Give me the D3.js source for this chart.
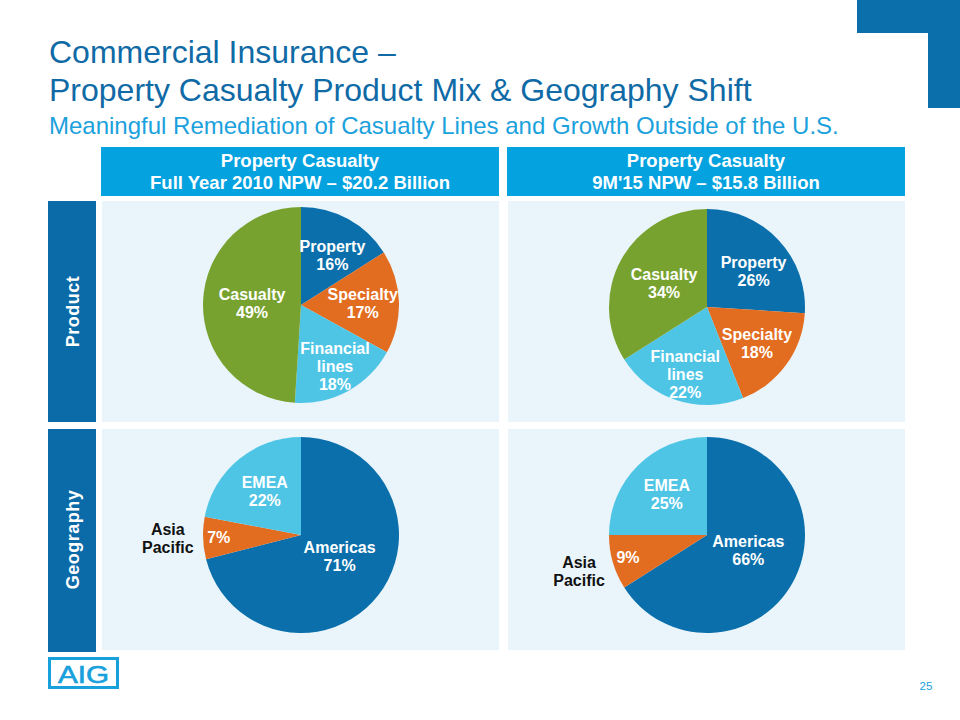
<!DOCTYPE html>
<html>
<head>
<meta charset="utf-8">
<script src="https://cdn.jsdelivr.net/npm/d3@7"></script>
<style>
  html, body { margin: 0; padding: 0; background: #ffffff; }
  svg { display: block; font-family: "Liberation Sans", Arial, sans-serif; }
</style>
</head>
<body>
<div id="chart"></div>
<script>
// ---------- data ----------
const productCategories = ["Property", "Specialty", "Financial lines", "Casualty"];
const product2010 = [16, 17, 18, 49];
const product2015 = [26, 18, 22, 34];

const geoCategories = ["Americas", "Asia Pacific", "EMEA"];
const geo2010 = [71, 7, 22];
const geo2015 = [66, 9, 25];

const columnTitles = [
  ["Property Casualty", "Full Year 2010 NPW \u2013 $20.2 Billion"],
  ["Property Casualty", "9M'15 NPW \u2013 $15.8 Billion"]
];
const rowTitles = ["Product", "Geography"];
const titleLines = ["Commercial Insurance \u2013", "Property Casualty Product Mix & Geography Shift"];
const subtitle = "Meaningful Remediation of Casualty Lines and Growth Outside of the U.S.";
const pageNumber = "25";

// ---------- styles / layout ----------
const colors = {
  "Property": "#0b6fab",
  "Specialty": "#e26c1f",
  "Financial lines": "#4fc5e6",
  "Casualty": "#78a22f",
  "Americas": "#0b6fab",
  "Asia Pacific": "#e26c1f",
  "EMEA": "#4fc5e6"
};
const labelLines = {
  "Property": ["Property"],
  "Specialty": ["Specialty"],
  "Financial lines": ["Financial", "lines"],
  "Casualty": ["Casualty"],
  "Americas": ["Americas"],
  "Asia Pacific": [],
  "EMEA": ["EMEA"]
};
// k: label radius factor, t: fraction along slice angle
const labelPlace = {
  "Property": {k: 0.6, t: 0.56},
  "Specialty": {k: 0.63, t: 0.5},
  "Financial lines": {k: 0.72, t: 0.5},
  "Casualty": {k: 0.5, t: 0.5},
  "Americas": {k: 0.45, t: 0.465},
  "Asia Pacific": {k: 0.84, t: 0.5},
  "EMEA": {k: 0.58, t: 0.5}
};

const W = 960, H = 720;
const svg = d3.select("#chart").append("svg").attr("width", W).attr("height", H);
svg.append("rect").attr("width", W).attr("height", H).attr("fill", "#ffffff");

// top-right decorative block
svg.append("rect").attr("x", 857).attr("y", 0).attr("width", 103).attr("height", 33).attr("fill", "#0b6fab");
svg.append("rect").attr("x", 928).attr("y", 0).attr("width", 32).attr("height", 108).attr("fill", "#0b6fab");

// titles
svg.selectAll("text.title").data(titleLines).join("text")
  .attr("class", "title")
  .attr("x", 49).attr("y", (d, i) => 63 + i * 38)
  .attr("font-size", 32).attr("fill", "#0f6aa6")
  .text(d => d);
svg.append("text").attr("x", 49).attr("y", 134)
  .attr("font-size", 24).attr("fill", "#1ba1dc").text(subtitle);

// column layout
const colX = [102, 508], colW = 398;
const rowY = [201, 429], rowH = 221;

// headers
columnTitles.forEach((lines, i) => {
  svg.append("rect").attr("x", colX[i] - 1).attr("y", 147).attr("width", colW).attr("height", 49).attr("fill", "#04a2df");
  svg.append("text").attr("x", colX[i] - 1 + colW / 2).attr("y", 167)
    .attr("text-anchor", "middle").attr("font-size", 18.5).attr("font-weight", "bold").attr("fill", "#fff").text(lines[0]);
  svg.append("text").attr("x", colX[i] - 1 + colW / 2).attr("y", 189)
    .attr("text-anchor", "middle").attr("font-size", 18.5).attr("font-weight", "bold").attr("fill", "#fff").text(lines[1]);
});

// row labels + panels
rowTitles.forEach((t, r) => {
  svg.append("rect").attr("x", 48).attr("y", rowY[r]).attr("width", 48).attr("height", rowH + (r === 1 ? 2 : 0)).attr("fill", "#0b6ba8");
  const cx = 73, cy = rowY[r] + rowH / 2;
  svg.append("text").attr("transform", `translate(${cx},${cy}) rotate(-90)`)
    .attr("text-anchor", "middle").attr("dominant-baseline", "central")
    .attr("font-size", 18).attr("font-weight", "bold").attr("fill", "#fff")
    .attr("letter-spacing", 0.5).text(t);
  colX.forEach(x => {
    svg.append("rect").attr("x", x).attr("y", rowY[r]).attr("width", colW - 1).attr("height", rowH).attr("fill", "#eaf5fb");
  });
});

// pies
const R = 98;
const pies = [
  {cats: productCategories, vals: product2010, cx: 301, cy: 305},
  {cats: productCategories, vals: product2015, cx: 707, cy: 307},
  {cats: geoCategories, vals: geo2010, cx: 301, cy: 535},
  {cats: geoCategories, vals: geo2015, cx: 707, cy: 535}
];
const pieGen = d3.pie().sort(null).value(d => d.v);
const arc = d3.arc().innerRadius(0).outerRadius(R);
const lineH = 18;
const labelSize = 16;

pies.forEach(p => {
  const data = p.cats.map((c, i) => ({c, v: p.vals[i]}));
  const arcs = pieGen(data);
  const g = svg.append("g").attr("transform", `translate(${p.cx},${p.cy})`);
  g.selectAll("path").data(arcs).join("path")
    .attr("d", arc).attr("fill", d => colors[d.data.c]);

  arcs.forEach(a => {
    const pl = labelPlace[a.data.c];
    const ang = a.startAngle + (a.endAngle - a.startAngle) * pl.t;
    const rr = R * pl.k;
    const x = Math.sin(ang) * rr, y = -Math.cos(ang) * rr;
    const lines = labelLines[a.data.c].concat([a.data.v + "%"]);
    const y0 = y - (lines.length - 1) * lineH / 2;
    lines.forEach((ln, j) => {
      g.append("text").attr("x", x).attr("y", y0 + j * lineH)
        .attr("text-anchor", "middle").attr("dominant-baseline", "central")
        .attr("font-size", labelSize).attr("font-weight", "bold").attr("fill", "#fff").text(ln);
    });
    if (a.data.c === "Asia Pacific") {
      const ro = R * 1.36;
      const ox = Math.sin(ang) * ro, oy = -Math.cos(ang) * ro;
      ["Asia", "Pacific"].forEach((ln, j) => {
        g.append("text").attr("x", ox).attr("y", oy - lineH / 2 + j * lineH - 1)
          .attr("text-anchor", "middle").attr("dominant-baseline", "central")
          .attr("font-size", labelSize).attr("font-weight", "bold").attr("fill", "#111").text(ln);
      });
    }
  });
});

// AIG logo
svg.append("rect").attr("x", 49.5).attr("y", 658.5).attr("width", 68).attr("height", 29)
  .attr("fill", "#fff").attr("stroke", "#17a0dc").attr("stroke-width", 3);
svg.append("text").attr("x", 58).attr("y", 683)
  .attr("font-size", 24).attr("fill", "#17a0dc").attr("stroke", "#17a0dc").attr("stroke-width", 0.6)
  .attr("textLength", 51).attr("lengthAdjust", "spacingAndGlyphs")
  .text("AIG");

// page number
svg.append("text").attr("x", 926).attr("y", 690).attr("text-anchor", "middle")
  .attr("font-size", 11.5).attr("fill", "#1ba1dc").text(pageNumber);
</script>
</body>
</html>
